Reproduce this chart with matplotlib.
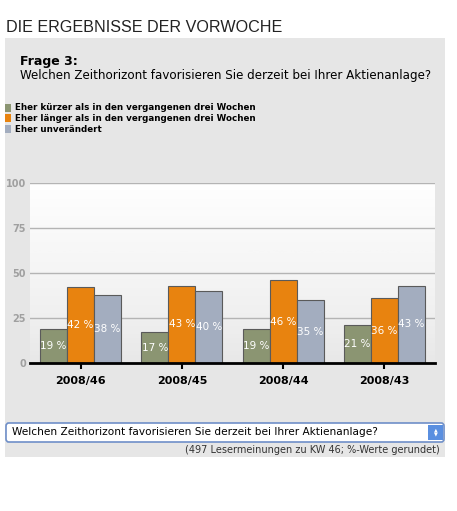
import matplotlib.pyplot as plt
import numpy as np
from matplotlib.patches import FancyBboxPatch, Rectangle

# Daten
wochen = ['2008/46', '2008/45', '2008/44', '2008/43']
kuerzer = [19, 17, 19, 21]
laenger = [42, 43, 46, 36]
unveraendert = [38, 40, 35, 43]
serien = ['Eher kürzer als in den vergangenen drei Wochen',
          'Eher länger als in den vergangenen drei Wochen',
          'Eher unverändert']
farben = ['#8b9572', '#e8830f', '#a3adbf']
yticks = [0, 25, 50, 75, 100]

W, H = 457, 511
fig = plt.figure(figsize=(W / 100, H / 100), dpi=100)
fig.patch.set_facecolor('white')


def fx(px):
    return px / W


def fy(py):
    return 1 - py / H


# grauer Hintergrund
fig.patches.append(Rectangle((fx(5), fy(457)), fx(440), (457 - 38) / H,
                             transform=fig.transFigure, facecolor='#e6e6e6',
                             edgecolor='none', zorder=-5))

fig.text(fx(6), fy(28), 'DIE ERGEBNISSE DER VORWOCHE', fontsize=11.6,
         family='Liberation Sans', color='#222222', va='center')
fig.text(fx(20), fy(61), 'Frage 3:', fontsize=9, fontweight='bold', va='center')
fig.text(fx(20), fy(76), 'Welchen Zeithorizont favorisieren Sie derzeit bei Ihrer Aktienanlage?',
         fontsize=8.6, va='center')

# Legende
for i, (name, c) in enumerate(zip(serien, farben)):
    y = 108 + i * 10.5
    fig.patches.append(Rectangle((fx(5), fy(y + 4)), fx(6), 8 / H,
                                 transform=fig.transFigure, facecolor=c,
                                 edgecolor='none'))
    fig.text(fx(15), fy(y), name, fontsize=6.3, fontweight='bold', va='center')

# Diagramm
ax = fig.add_axes([fx(30), fy(363), fx(405), 180 / H])
ax.set_zorder(2)
grad = np.linspace(1, 0, 256).reshape(-1, 1)
ax.imshow(grad, extent=[-0.5, 3.5, 0, 100], aspect='auto', cmap='Greys_r',
          vmin=-5.0, vmax=1.03, zorder=0)

x = np.arange(len(wochen))
bw = 0.267
for k, (werte, c) in enumerate(zip([kuerzer, laenger, unveraendert], farben)):
    pos = x + (k - 1) * bw
    ax.bar(pos, werte, bw, color=c, edgecolor='#5a5a5a', linewidth=0.8, zorder=3)
    for p, v in zip(pos, werte):
        ax.text(p, v / 2, f'{v} %', color='white', fontsize=7.5,
                ha='center', va='center', zorder=4)

ax.set_xlim(-0.5, 3.5)
ax.set_ylim(0, 100)
ax.set_yticks(yticks)
ax.set_yticklabels([str(t) for t in yticks], color='#a0a0a0',
                   fontsize=7, fontweight='bold')
ax.yaxis.grid(True, color='#b4b4b4', linewidth=1, zorder=1)
ax.tick_params(axis='y', length=0, pad=3)
ax.set_xticks(x)
ax.set_xticklabels(wochen, fontsize=8, fontweight='bold')
ax.tick_params(axis='x', length=4, width=1.5, color='black', pad=5)
for s in ['top', 'right', 'left']:
    ax.spines[s].set_visible(False)
ax.spines['bottom'].set_linewidth(2)
ax.spines['bottom'].set_zorder(5)

# Auswahlfeld
box = FancyBboxPatch((fx(6), fy(442)), fx(438), 19 / H,
                     boxstyle='round,pad=0,rounding_size=0.006',
                     transform=fig.transFigure, facecolor='white',
                     edgecolor='#6f8fc8', linewidth=1.2)
fig.patches.append(box)
fig.text(fx(12), fy(432), 'Welchen Zeithorizont favorisieren Sie derzeit bei Ihrer Aktienanlage?',
         fontsize=7.6, va='center')
fig.patches.append(Rectangle((fx(428), fy(440)), fx(15), 15 / H,
                             transform=fig.transFigure, facecolor='#5a8fe0',
                             edgecolor='none'))
fig.text(fx(435.5), fy(432), '▲\n▼', fontsize=3.5, color='white',
         ha='center', va='center', linespacing=0.9)
fig.text(fx(440), fy(450), '(497 Lesermeinungen zu KW 46; %-Werte gerundet)',
         fontsize=7, color='#333333', ha='right', va='center')

fig.savefig('out.png', dpi=100)
